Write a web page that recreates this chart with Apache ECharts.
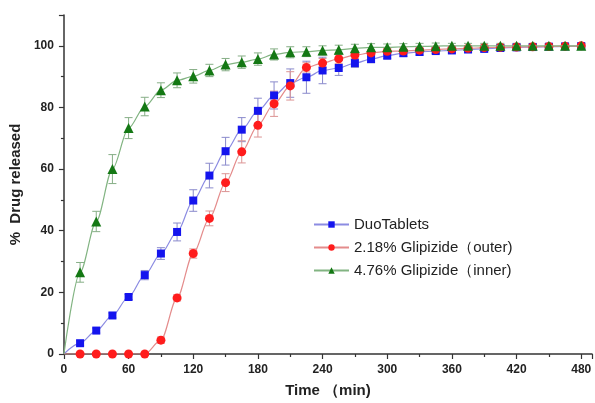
<!DOCTYPE html>
<html>
<head>
<meta charset="utf-8">
<script src="https://cdn.jsdelivr.net/npm/echarts@6/dist/echarts.min.js"></script>
<style>
  html, body { margin: 0; padding: 0; background: #fff; }
  #main { width: 595px; height: 403px; }
</style>
</head>
<body>
<div id="main"></div>
<script>
// time points (min)
var times = [0, 15, 30, 45, 60, 75, 90, 105, 120, 135, 150, 165, 180, 195, 210, 225, 240,
  255, 270, 285, 300, 315, 330, 345, 360, 375, 390, 405, 420, 435, 450, 465, 480];

var seriesNames = ['DuoTablets', '2.18% Glipizide（outer)', '4.76% Glipizide（inner)'];

// % released
var duoVals = [0, 3.5, 7.6, 12.5, 18.5, 25.6, 32.6, 39.6, 49.8, 57.9, 65.8, 72.8, 78.9, 83.9, 87.9,
  89.8, 92, 92.8, 94.4, 95.7, 96.8, 97.6, 98, 98.3, 98.5, 98.8, 99, 99.3, 99.5, 99.6, 99.7, 99.8, 99.9];
var duoErr = [0, 0.8, 0.8, 0.8, 0.8, 1.5, 1.9, 2.9, 3.5, 4, 4.5, 3.9, 4.1, 4.4, 4.6,
  5.2, 4.3, 2.4, 1.4, 1.2, 1, 1, 1, 0.8, 0.8, 0.8, 0.8, 0.8, 0.8, 0.8, 0.8, 0.8, 0.8];

var outerVals = [0, 0, 0, 0, 0, 0, 4.5, 18.2, 32.6, 44, 55.6, 65.6, 74.2, 81.2, 87,
  93, 94.4, 95.8, 97, 97.7, 98.2, 98.3, 98.6, 98.8, 99, 99.2, 99.4, 99.5, 99.6, 99.7, 99.8, 99.9, 100];
var outerErr = [0, 0, 0, 0, 0, 0, 1, 1, 1.5, 2.4, 2.9, 3.6, 3.8, 4.1, 4.6,
  1.5, 1.5, 1.5, 1.2, 1, 1, 1, 0.8, 0.8, 0.8, 0.8, 0.8, 0.8, 0.8, 0.8, 0.8, 0.8, 0.8];

var innerVals = [0, 26.5, 43, 60, 73.3, 80.3, 85.6, 88.8, 90.1, 92, 93.9, 94.7, 95.7, 97.2, 97.9,
  98.1, 98.5, 98.7, 99.2, 99.5, 99.5, 99.7, 99.8, 99.9, 100, 100, 100, 100, 100, 100, 100, 100, 100];
var innerErr = [0, 3.2, 3.3, 4.7, 3.4, 3, 2.4, 2.4, 2.2, 2, 2, 2, 2, 1.8, 1.8,
  1.6, 1.5, 1.5, 1.3, 1.2, 1.1, 1, 1, 1, 0.8, 0.8, 0.8, 0.8, 0.8, 0.8, 0.8, 0.8, 0.8];

var markerColors = ['#1414ee', '#ff1c1c', '#147814'];
var lineColors = ['#8c8ce2', '#e48c8c', '#82b482'];
var barColors = ['#8a8acc', '#dc9494', '#86ae86'];
var symbols = ['rect', 'circle', 'triangle'];
var symbolSizes = [8, 9, 10];

var font = 'Liberation Sans, Arial, sans-serif';

function pairs(vals) {
  return times.map(function (t, i) { return [t, vals[i]]; });
}
function errData(vals, errs) {
  return times.map(function (t, i) { return [t, vals[i] - errs[i], vals[i] + errs[i]]; })
    .filter(function (d) { return d[2] - d[1] > 0; });
}

function errRender(color) {
  return function (params, api) {
    var x = api.value(0);
    var lo = api.coord([x, api.value(1)]);
    var hi = api.coord([x, api.value(2)]);
    var w = 4;
    var st = { stroke: color, lineWidth: 1 };
    return {
      type: 'group',
      children: [
        { type: 'line', shape: { x1: lo[0], y1: lo[1], x2: hi[0], y2: hi[1] }, style: st },
        { type: 'line', shape: { x1: lo[0] - w, y1: lo[1], x2: lo[0] + w, y2: lo[1] }, style: st },
        { type: 'line', shape: { x1: hi[0] - w, y1: hi[1], x2: hi[0] + w, y2: hi[1] }, style: st }
      ]
    };
  };
}

function sizeFn(s) {
  return function (v) { return v[0] === 0 ? 0 : s; };
}

var allVals = [duoVals, outerVals, innerVals];
var allErr = [duoErr, outerErr, innerErr];

var series = [];
for (var k = 0; k < 3; k++) {
  series.push({
    name: seriesNames[k] + '_err',
    type: 'custom',
    renderItem: errRender(barColors[k]),
    data: errData(allVals[k], allErr[k]),
    encode: { x: 0, y: [1, 2] },
    z: 1,
    silent: true
  });
}
for (var k = 0; k < 3; k++) {
  series.push({
    name: seriesNames[k],
    type: 'line',
    data: pairs(allVals[k]),
    smooth: 0.3,
    smoothMonotone: 'x',
    symbol: symbols[k],
    symbolSize: sizeFn(symbolSizes[k]),
    lineStyle: { color: lineColors[k], width: 1.2 },
    itemStyle: { color: markerColors[k] },
    z: 3 + k
  });
}

var chart = echarts.init(document.getElementById('main'));
var option = {
  backgroundColor: '#ffffff',
  animation: false,
  grid: { left: 63, right: 3, top: 15, bottom: 46 },
  legend: {
    data: seriesNames,
    orient: 'vertical',
    left: 313,
    top: 217,
    padding: 0,
    itemWidth: 35,
    itemHeight: 8,
    itemGap: 8,
    textStyle: { fontFamily: font, fontSize: 15, lineHeight: 15, color: '#222' }
  },
  xAxis: {
    type: 'value',
    min: 0,
    max: 490,
    interval: 60,
    name: 'Time （min)',
    nameLocation: 'middle',
    nameGap: 29,
    nameTextStyle: { fontFamily: font, fontSize: 15, fontWeight: 'bold', color: '#222' },
    axisLine: { lineStyle: { color: '#333', width: 1.5 } },
    axisTick: { length: 5, lineStyle: { color: '#333', width: 1.2 } },
    minorTick: { show: true, splitNumber: 2, length: 3, lineStyle: { color: '#333', width: 1.2 } },
    splitLine: { show: false },
    axisLabel: {
      margin: 10,
      fontFamily: font,
      fontSize: 12,
      fontWeight: 'bold',
      color: '#222',
      formatter: function (v) { return v > 480 ? '' : v; }
    }
  },
  yAxis: {
    type: 'value',
    min: 0,
    max: 110,
    interval: 20,
    name: '%  Drug released',
    nameLocation: 'middle',
    nameGap: 34,
    nameTextStyle: { fontFamily: font, fontSize: 15, fontWeight: 'bold', color: '#222' },
    axisLine: { show: true, lineStyle: { color: '#333', width: 1.5 } },
    axisTick: { show: true, length: 5, lineStyle: { color: '#333', width: 1.2 } },
    minorTick: { show: true, splitNumber: 2, length: 3, lineStyle: { color: '#333', width: 1.2 } },
    splitLine: { show: false },
    axisLabel: {
      margin: 10,
      fontFamily: font,
      fontSize: 12,
      fontWeight: 'bold',
      color: '#222',
      formatter: function (v) { return v > 100 ? '' : v; }
    }
  },
  series: series
};
chart.setOption(option);
</script>
</body>
</html>
